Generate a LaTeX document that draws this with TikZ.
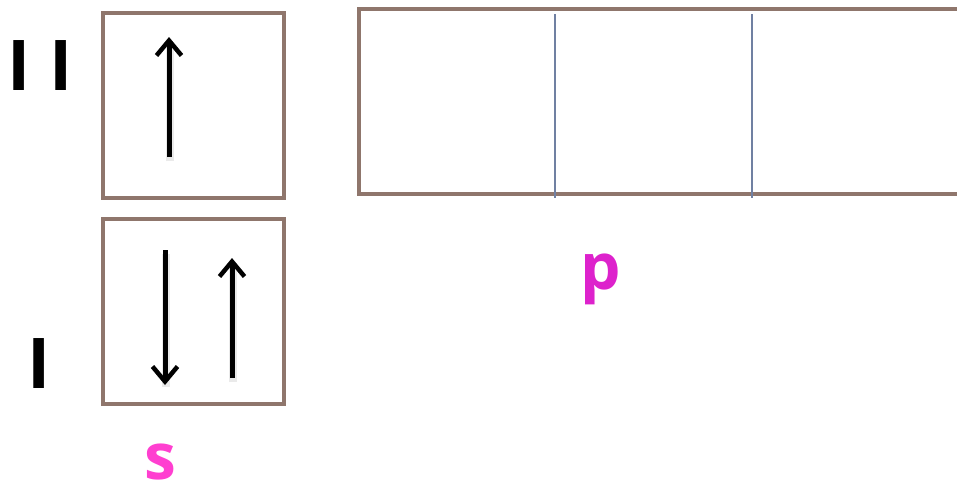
\documentclass[tikz,border=0pt]{standalone}
\usepackage{fontspec}
\setmainfont{Open Sans}
\usetikzlibrary{arrows.meta}
\definecolor{boxbrown}{HTML}{8F766C}
\definecolor{divblue}{HTML}{7080A2}
\definecolor{pmag}{HTML}{DD22CC}
\definecolor{smag}{HTML}{FF3FD0}
\tikzset{
  orbital/.style={draw=boxbrown, line width=3.5pt, minimum width=181pt, minimum height=185pt, inner sep=0pt, outer sep=0pt, fill=white},
  divider/.style={draw=divblue, line width=1.3pt},
  spin/.style={line width=5pt, -{Straight Barb[length=15pt,width=25pt,line width=4.5pt]}},
  spinshadow/.style={line width=8pt, draw=black!40, opacity=0.2},
  levellabel/.style={font=\fontsize{70}{70}\selectfont\bfseries, text=black, inner sep=0pt, anchor=base},
  orblabel/.style={font=\fontsize{64}{64}\selectfont\bfseries, inner sep=0pt, anchor=base},
}
\begin{document}
\begin{tikzpicture}[x=1pt,y=-1pt]
\useasboundingbox (0,0) rectangle (957,488);
\clip (0,0) rectangle (957,488);
% s boxes
\node[orbital] (s2) at (193.5,105.5) {};
\node[orbital] (s1) at (193.5,311.5) {};
% p box
\node[orbital, minimum width=620pt] (p2) at (669,101.5) {};
\draw[divider] (555,14) -- (555,198);
\draw[divider] (752,14) -- (752,198);
% spins
\coordinate (a1s) at (169,157);
\coordinate (a1e) at (169,37);
\coordinate (a2s) at (165,250);
\coordinate (a2e) at (165,385);
\coordinate (a3s) at (232,378);
\coordinate (a3e) at (232,258);
\draw[spinshadow] ([shift={(1,4)}]a1s) -- ([shift={(1,10)}]a1e);
\draw[spinshadow] ([shift={(1,4)}]a2s) -- ([shift={(1,2)}]a2e);
\draw[spinshadow] ([shift={(1,4)}]a3s) -- ([shift={(1,10)}]a3e);
\draw[spin] (a1s) -- (a1e);
\draw[spin] (a2s) -- (a2e);
\draw[spin] (a3s) -- (a3e);
% labels
\node[levellabel] (lII) at (40,90) {I I};
\node[levellabel] (lI) at (39.5,388) {I};
\node[orblabel, text=pmag] (lp) at (601,289) {p};
\node[orblabel, text=smag] (ls) at (160,479) {s};
\end{tikzpicture}
\end{document}
